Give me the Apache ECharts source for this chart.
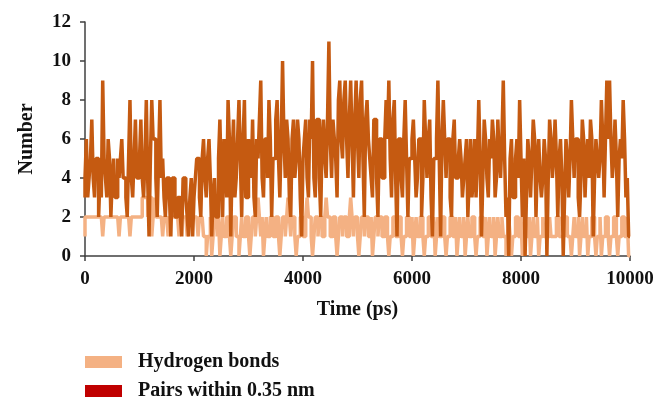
<!DOCTYPE html>
<html>
<head>
<meta charset="utf-8">
<script src="https://cdn.jsdelivr.net/npm/echarts@6/dist/echarts.min.js"></script>
<style>
  html, body { margin: 0; padding: 0; background: #fff; }
  #chart { width: 671px; height: 410px; }
</style>
</head>
<body>
<div id="chart"></div>
<script>
// sampling step of the trajectory (ps)
const timeStep = 25
const xTicks = [0, 2000, 4000, 6000, 8000, 10000]
const yTicks = [0, 2, 4, 6, 8, 10, 12]
const seriesNames = ['Hydrogen bonds', 'Pairs within 0.35 nm']

// number of hydrogen bonds, one value every 25 ps (rows of 500 ps)
const hydrogenBonds = [
    1,2,2,2,2,2,2,2,2,2,2,2,2,2,1,2,2,2,2,2,
    2,2,2,2,2,2,1,2,2,2,2,2,2,2,1,2,2,2,2,2,
    2,2,2,3,3,3,3,2,3,3,1,2,3,2,2,2,2,2,1,2,
    2,2,1,2,2,2,2,2,2,2,1,2,2,2,2,2,1,2,2,2,
    2,2,2,2,1,2,2,2,1,1,0,1,1,2,0,1,2,2,1,2,
    0,1,2,1,1,2,2,1,0,1,2,2,1,1,0,1,2,1,1,2,
    2,1,0,1,2,2,1,2,3,2,1,2,0,1,2,1,1,2,2,1,
    1,2,2,1,0,1,2,2,1,2,3,2,1,2,2,1,0,1,1,2,
    2,1,1,2,3,2,2,1,0,1,2,2,1,2,2,1,1,2,3,2,
    2,1,1,2,2,1,0,1,2,2,1,2,2,1,1,2,3,2,1,2,
    2,1,0,1,2,2,1,2,2,1,1,2,0,1,2,2,1,2,2,1,
    1,2,2,1,0,1,1,2,2,1,1,2,2,1,0,1,1,2,2,1,
    1,2,0,1,2,1,1,2,2,1,0,1,1,2,2,1,1,2,0,1,
    2,1,1,2,2,1,0,1,1,2,2,1,1,2,0,1,2,1,1,2,
    0,1,2,1,1,2,2,1,0,1,1,2,2,1,1,2,0,1,2,1,
    1,2,0,1,2,1,1,2,1,1,0,1,2,1,0,1,1,2,2,1,
    1,2,0,1,2,1,1,2,0,1,2,1,1,2,0,1,1,2,1,1,
    1,1,2,1,1,1,1,2,2,1,1,1,1,2,2,1,1,1,0,1,
    2,1,1,2,0,1,2,1,1,2,0,1,1,2,2,1,0,1,1,2,
    0,1,1,2,2,1,0,1,1,2,2,1,0,1,1,2,2,1,1,2,
    0
]

// number of atom pairs within 0.35 nm, one value every 25 ps (rows of 500 ps)
const closePairs = [
    3,4,6,3,4,5,7,4,3,5,5,2,4,3,9,5,4,3,6,5,
    2,4,5,3,3,5,4,5,6,4,4,3,2,5,8,4,3,5,7,4,
    4,5,7,4,3,5,8,4,1,5,8,6,6,4,2,5,8,4,5,3,
    2,4,4,3,1,4,4,2,2,3,3,2,1,4,4,3,2,1,3,4,
    1,3,4,5,5,3,2,5,6,4,3,5,6,4,1,3,4,2,2,5,
    7,4,2,6,5,3,8,6,1,5,7,3,4,6,8,5,2,6,8,3,
    3,6,5,4,7,3,2,6,5,7,9,4,3,6,6,4,8,6,2,5,
    5,7,8,5,3,6,10,6,4,7,6,3,2,6,7,4,5,7,6,3,
    1,5,6,7,4,3,7,6,10,4,3,7,7,4,2,6,7,5,4,7,
    11,6,4,7,6,5,3,8,9,6,5,8,9,6,4,7,9,6,3,7,
    9,6,4,8,9,5,2,7,8,6,5,4,3,7,7,4,2,6,6,4,
    4,6,8,6,9,5,3,7,8,4,1,6,6,4,3,6,8,5,2,5,
    5,6,7,5,3,4,6,6,2,4,8,6,4,6,7,3,1,5,5,6,
    9,5,1,6,8,6,4,6,6,3,2,6,7,4,4,5,6,5,3,4,
    5,6,2,4,6,3,4,6,3,5,8,5,1,4,7,6,4,3,6,5,
    7,6,3,4,7,5,4,6,9,5,2,3,0,5,6,3,3,5,6,4,
    8,5,2,5,0,3,6,5,3,5,7,6,2,5,6,4,3,4,6,5,
    0,4,7,6,4,5,7,5,2,5,6,4,0,3,6,5,3,5,8,6,
    4,6,6,3,2,4,7,6,3,5,6,4,7,6,1,4,6,5,4,5,
    8,6,3,6,9,6,9,6,4,5,7,5,2,5,6,5,8,6,3,4,
    1
]

const toPoints = values => values.map((v, i) => [i * timeStep, v])

const font = 'Liberation Serif'

const option = {
    animation: false,
    grid: { left: 85, right: 41, top: 22, bottom: 154 },
    legend: {
        orient: 'vertical',
        left: 85,
        top: 352,
        height: 58,
        padding: 0,
        icon: 'rect',
        itemWidth: 37,
        itemHeight: 12,
        itemGap: 9,
        textStyle: {
            fontFamily: font, fontWeight: 'bold', fontSize: 20,
            lineHeight: 19, color: '#111', padding: [0, 0, 0, 11]
        },
        data: [
            { name: seriesNames[0], itemStyle: { color: '#f4b183' } },
            { name: seriesNames[1], itemStyle: { color: '#c00000' } }
        ]
    },
    xAxis: {
        type: 'value',
        min: xTicks[0],
        max: xTicks[xTicks.length - 1],
        interval: 2000,
        name: 'Time (ps)',
        nameLocation: 'middle',
        nameGap: 44,
        nameTextStyle: { fontFamily: font, fontWeight: 'bold', fontSize: 20, color: '#111' },
        axisLine: { lineStyle: { color: '#404040', width: 1.5 } },
        axisTick: { length: 5, lineStyle: { color: '#404040', width: 1.5 } },
        axisLabel: {
            fontFamily: font, fontWeight: 'bold', fontSize: 19, color: '#111', margin: 14,
            formatter: v => String(v)
        },
        splitLine: { show: false }
    },
    yAxis: {
        type: 'value',
        min: yTicks[0],
        max: yTicks[yTicks.length - 1],
        interval: 2,
        name: 'Number',
        nameLocation: 'middle',
        nameGap: 48,
        nameTextStyle: { fontFamily: font, fontWeight: 'bold', fontSize: 20, color: '#111' },
        axisLine: { show: true, lineStyle: { color: '#404040', width: 1.5 } },
        axisTick: { show: true, length: 5, lineStyle: { color: '#404040', width: 1.5 } },
        axisLabel: { fontFamily: font, fontWeight: 'bold', fontSize: 19, color: '#111', margin: 14 },
        splitLine: { show: false }
    },
    series: [
        {
            name: seriesNames[0],
            type: 'line',
            step: 'start',
            showSymbol: false,
            data: toPoints(hydrogenBonds),
            lineStyle: { color: '#f4b183', width: 3.5 },
            itemStyle: { color: '#f4b183' }
        },
        {
            name: seriesNames[1],
            type: 'line',
            step: 'start',
            showSymbol: false,
            data: toPoints(closePairs),
            lineStyle: { color: '#c55a11', width: 3.5 },
            itemStyle: { color: '#c55a11' }
        }
    ]
}

const chart = echarts.init(document.getElementById('chart'))
chart.setOption(option)
</script>
</body>
</html>
